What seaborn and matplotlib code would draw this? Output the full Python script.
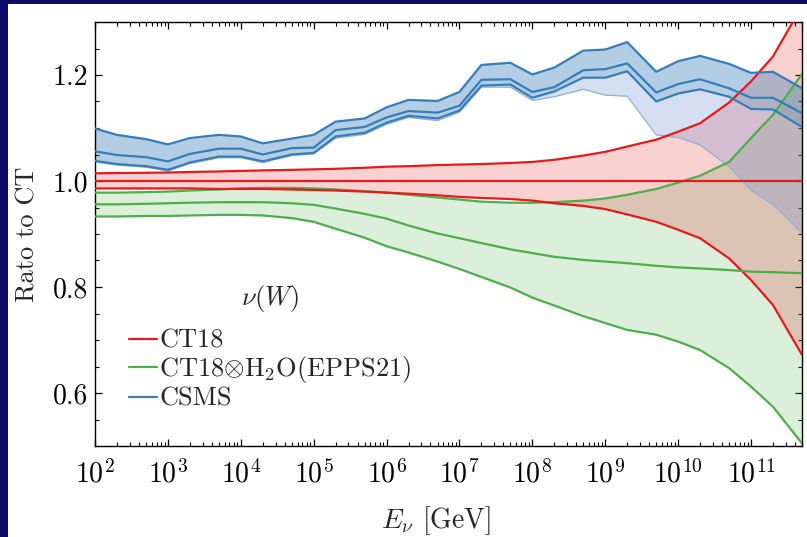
import numpy as np
import pandas as pd
import matplotlib
matplotlib.use("Agg")
import matplotlib.pyplot as plt
import matplotlib.ticker as mticker
from matplotlib.patches import Rectangle
import seaborn as sns

# ---------------- data ----------------
energy = [1e2, 2e2, 5e2, 1e3, 2e3, 5e3, 1e4, 2e4, 5e4, 1e5,
          2e5, 5e5, 1e6, 2e6, 5e6, 1e7, 2e7, 5e7, 1e8, 2e8,
          5e8, 1e9, 2e9, 5e9, 1e10, 2e10, 5e10, 1e11, 2e11, 5e11]

ct18_center = [1.0] * 30
ct18_upper = [1.0145, 1.015, 1.0155, 1.016, 1.017, 1.018, 1.019, 1.020, 1.021, 1.022,
              1.023, 1.025, 1.027, 1.028, 1.030, 1.031, 1.032, 1.034, 1.036, 1.040,
              1.048, 1.055, 1.065, 1.078, 1.093, 1.109, 1.148, 1.188, 1.235, 1.330]
ct18_lower = [0.986, 0.986, 0.986, 0.986, 0.986, 0.985, 0.985, 0.985, 0.984, 0.983,
              0.982, 0.980, 0.978, 0.976, 0.973, 0.970, 0.968, 0.966, 0.963, 0.958,
              0.953, 0.947, 0.937, 0.923, 0.908, 0.892, 0.854, 0.813, 0.766, 0.672]

h2o_center = [0.956, 0.956, 0.957, 0.958, 0.959, 0.960, 0.960, 0.960, 0.958, 0.955,
              0.948, 0.938, 0.929, 0.916, 0.901, 0.892, 0.883, 0.871, 0.864, 0.857,
              0.851, 0.848, 0.845, 0.840, 0.837, 0.835, 0.832, 0.829, 0.828, 0.826]
h2o_upper = [0.978, 0.978, 0.979, 0.980, 0.982, 0.984, 0.986, 0.987, 0.987, 0.986,
             0.984, 0.981, 0.978, 0.974, 0.969, 0.965, 0.961, 0.959, 0.959, 0.960,
             0.963, 0.967, 0.974, 0.985, 0.997, 1.010, 1.036, 1.081, 1.125, 1.202]
h2o_lower = [0.933, 0.933, 0.934, 0.934, 0.935, 0.936, 0.936, 0.935, 0.930, 0.923,
             0.910, 0.893, 0.877, 0.865, 0.848, 0.834, 0.819, 0.799, 0.780, 0.765,
             0.745, 0.732, 0.719, 0.710, 0.697, 0.681, 0.647, 0.612, 0.574, 0.505]

csms_center = [1.056, 1.049, 1.045, 1.037, 1.051, 1.061, 1.061, 1.050, 1.062, 1.063,
               1.096, 1.102, 1.120, 1.132, 1.129, 1.142, 1.191, 1.192, 1.168, 1.177,
               1.209, 1.211, 1.222, 1.167, 1.183, 1.192, 1.175, 1.157, 1.157, 1.128]
csms_upper = [1.099, 1.087, 1.079, 1.069, 1.081, 1.087, 1.084, 1.071, 1.080, 1.087,
              1.112, 1.118, 1.139, 1.153, 1.151, 1.168, 1.219, 1.223, 1.201, 1.214,
              1.246, 1.248, 1.262, 1.206, 1.226, 1.236, 1.221, 1.204, 1.206, 1.175]
csms_lower = [1.038, 1.032, 1.028, 1.021, 1.035, 1.046, 1.046, 1.037, 1.050, 1.053,
              1.084, 1.091, 1.110, 1.123, 1.118, 1.133, 1.180, 1.182, 1.157, 1.169,
              1.195, 1.195, 1.207, 1.150, 1.165, 1.173, 1.159, 1.136, 1.135, 1.102]
csms_alt_lower = [1.036, 1.030, 1.026, 1.019, 1.033, 1.044, 1.044, 1.035, 1.048, 1.051,
                  1.081, 1.088, 1.107, 1.120, 1.114, 1.130, 1.177, 1.177, 1.152, 1.159,
                  1.173, 1.162, 1.160, 1.087, 1.082, 1.068, 1.027, 0.983, 0.956, 0.902]

legend_title = r"$\nu(W)$"
labels = ["CT18", r"CT18$\otimes$H$_2$O(EPPS21)", "CSMS"]

# ---------------- style ----------------
sns.set_theme(style="ticks")
plt.rcParams.update({
    "font.family": ["cmr10", "DejaVu Serif"],
    "mathtext.fontset": "cm",
    "axes.formatter.use_mathtext": True,
    "axes.unicode_minus": False,
    "font.size": 19,
    "xtick.direction": "in",
    "ytick.direction": "in",
    "xtick.top": True,
    "ytick.right": True,
    "axes.linewidth": 1.0,
    "axes.edgecolor": "black",
    "xtick.color": "black",
    "ytick.color": "black",
})

RED = "#e41a1c"
GREEN = "#4daf4a"
BLUE = "#377eb8"

fig = plt.figure(figsize=(8.07, 5.37), dpi=100, facecolor="#0b0b6b")
bg = Rectangle((8 / 807, 0), 1 - 8 / 807, 1 - 4 / 537,
               transform=fig.transFigure, facecolor="white",
               edgecolor="none", zorder=-10)
fig.patches.append(bg)
ax = fig.add_axes([95 / 807, 1 - 446 / 537, 707 / 807, 424 / 537])
ax.set_zorder(5)
ax.set_facecolor("white")

df = pd.DataFrame({
    "E": energy,
    "ct18_c": ct18_center, "ct18_u": ct18_upper, "ct18_l": ct18_lower,
    "h2o_c": h2o_center, "h2o_u": h2o_upper, "h2o_l": h2o_lower,
    "cs_c": csms_center, "cs_u": csms_upper, "cs_l": csms_lower,
    "cs_a": csms_alt_lower,
})

# bands
ax.fill_between(df["E"], df["h2o_l"], df["h2o_u"], color=GREEN, alpha=0.2, lw=0, zorder=1)
ax.fill_between(df["E"], df["ct18_l"], df["ct18_u"], color=RED, alpha=0.2, lw=0, zorder=1.1)
ax.fill_between(df["E"], df["cs_a"], df["cs_l"], color="#6f8fd0", alpha=0.28, lw=0, zorder=1.2)
ax.fill_between(df["E"], df["cs_l"], df["cs_u"], color=BLUE, alpha=0.38, lw=0, zorder=1.3)

lw = 1.6
for col, c in [("h2o_u", GREEN), ("h2o_l", GREEN), ("ct18_u", RED), ("ct18_l", RED),
               ("cs_u", BLUE), ("cs_l", BLUE)]:
    sns.lineplot(data=df, x="E", y=col, color=c, lw=lw, ax=ax, zorder=3)
sns.lineplot(data=df, x="E", y="cs_a", color="#8fb0d8", lw=0.9, ax=ax, zorder=2.5)

sns.lineplot(data=df, x="E", y="ct18_c", color=RED, lw=lw, ax=ax, zorder=3, label=labels[0])
sns.lineplot(data=df, x="E", y="h2o_c", color=GREEN, lw=lw, ax=ax, zorder=3, label=labels[1])
sns.lineplot(data=df, x="E", y="cs_c", color=BLUE, lw=lw, ax=ax, zorder=3, label=labels[2])

ax.set_xscale("log")
ax.set_xlim(1e2, 5e11)
ax.set_ylim(0.5, 1.3)

ax.xaxis.set_major_locator(mticker.LogLocator(base=10, numticks=20))
ax.xaxis.set_minor_locator(mticker.LogLocator(base=10, subs=np.arange(2, 10), numticks=20))
ax.xaxis.set_minor_formatter(mticker.NullFormatter())
ax.yaxis.set_major_locator(mticker.MultipleLocator(0.2))
ax.yaxis.set_minor_locator(mticker.MultipleLocator(0.05))
ax.yaxis.set_major_formatter(mticker.FormatStrFormatter("%.1f"))

ax.tick_params(which="major", length=5, width=0.9, labelsize=20)
ax.tick_params(which="minor", length=3, width=0.8)
ax.tick_params(axis="both", which="both", top=True, right=True, direction="in")
ax.tick_params(axis="x", which="major", pad=10)
ax.tick_params(axis="y", which="major", pad=5)

ax.set_xlabel(r"$E_\nu$ [GeV]", fontsize=20)
ax.xaxis.set_label_coords(0.483, -0.137)
ax.set_ylabel("Rato to CT", fontsize=19)
ax.yaxis.set_label_coords(-0.079, 0.5)

leg = ax.legend(title=legend_title, loc="lower left", bbox_to_anchor=(0.048, 0.083),
                frameon=False, fontsize=19, title_fontsize=19,
                handlelength=1.05, handletextpad=0.1, labelspacing=0.06,
                borderpad=0.0, borderaxespad=0.0)
leg._legend_box.sep = 11

fig.savefig("out.png", dpi=100, facecolor=fig.get_facecolor())
